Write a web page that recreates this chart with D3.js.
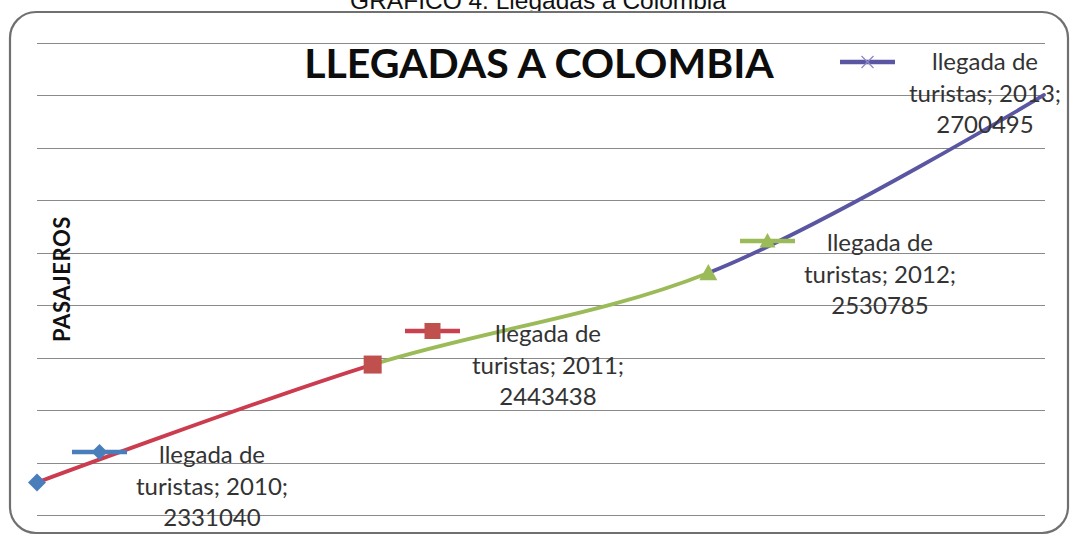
<!DOCTYPE html>
<html>
<head>
<meta charset="utf-8">
<script src="https://cdn.jsdelivr.net/npm/d3@7"></script>
<style>
  html, body { margin: 0; padding: 0; background: #fff; }
  svg { display: block; }
</style>
</head>
<body>
<svg id="chart" width="1078" height="540"></svg>
<script>
// Tourist arrivals in Colombia, 2010–2013
const years = [2010, 2011, 2012, 2013];
const arrivals = [2331040, 2443438, 2530785, 2700495];
const seriesName = "llegada de turistas";
const gridTicks = [2300000, 2350000, 2400000, 2450000, 2500000, 2550000, 2600000, 2650000, 2700000, 2750000];
const segmentColors = ["#CC3C4F", "#9BBB59", "#5A56A2"];
const markerColors = ["#4A7EBB", "#C0504D", "#9BBB59", "#8C88C8"];
const markerShapes = ["diamond", "square", "triangle", "x"];

const svg = d3.select("#chart");
const W = 1078, H = 540;

// caption above the frame
svg.append("text")
  .attr("x", 538).attr("y", 9)
  .attr("text-anchor", "middle")
  .attr("font-family", "Liberation Sans, Arial, sans-serif")
  .attr("font-size", 24.5)
  .attr("fill", "#111")
  .text("GRÁFICO 4. Llegadas a Colombia");

// rounded chart frame
svg.append("rect")
  .attr("x", 10).attr("y", 12)
  .attr("width", 1058).attr("height", 521)
  .attr("rx", 26).attr("ry", 26)
  .attr("fill", "#fff")
  .attr("stroke", "#707070")
  .attr("stroke-width", 2.2);

const x = d3.scalePoint().domain(years).range([37, 1044]);
const y = d3.scaleLinear().domain([2300000, 2750000]).range([515, 43]);

// horizontal gridlines
svg.append("g")
  .selectAll("line")
  .data(gridTicks)
  .join("line")
  .attr("x1", 37).attr("x2", 1045)
  .attr("y1", d => Math.round(y(d)) + 0.5)
  .attr("y2", d => Math.round(y(d)) + 0.5)
  .attr("stroke", "#8a8a8a")
  .attr("stroke-width", 1.2);

// chart title
svg.append("text")
  .attr("x", 539).attr("y", 78)
  .attr("text-anchor", "middle")
  .attr("font-family", "Lato, 'Open Sans', sans-serif")
  .attr("font-weight", "bold")
  .attr("font-size", 41)
  .attr("fill", "#0d0d0d")
  .text("LLEGADAS A COLOMBIA");

// axis title
svg.append("text")
  .attr("transform", "translate(70,279) rotate(-90)")
  .attr("text-anchor", "middle")
  .attr("font-family", "Lato, 'Open Sans', sans-serif")
  .attr("font-weight", "bold")
  .attr("font-size", 22)
  .attr("letter-spacing", 0.6)
  .attr("fill", "#111")
  .text("PASAJEROS");

// smoothed line, coloured segment by segment
const pts = years.map((yr, i) => [x(yr), y(arrivals[i])]);
const lineGen = d3.line().curve(d3.curveCatmullRom.alpha(0.5));
const defs = svg.append("defs");
segmentColors.forEach((c, i) => {
  defs.append("clipPath").attr("id", "seg" + i)
    .append("rect")
    .attr("x", pts[i][0]).attr("y", 0)
    .attr("width", pts[i + 1][0] - pts[i][0] + (i === 2 ? 6 : 0))
    .attr("height", H);
  svg.append("path")
    .attr("d", lineGen(pts))
    .attr("clip-path", `url(#seg${i})`)
    .attr("fill", "none")
    .attr("stroke", c)
    .attr("stroke-width", 3.8)
    .attr("stroke-linecap", "round");
});

function marker(g, shape, cx, cy, color, size) {
  if (shape === "diamond") {
    g.append("path")
      .attr("d", `M${cx},${cy - size}L${cx + size},${cy}L${cx},${cy + size}L${cx - size},${cy}Z`)
      .attr("fill", color);
  } else if (shape === "square") {
    g.append("rect")
      .attr("x", cx - size).attr("y", cy - size)
      .attr("width", size * 2).attr("height", size * 2)
      .attr("fill", color);
  } else if (shape === "triangle") {
    g.append("path")
      .attr("d", `M${cx},${cy - size}L${cx + size},${cy + size * 0.8}L${cx - size},${cy + size * 0.8}Z`)
      .attr("fill", color);
  } else {
    g.append("path")
      .attr("d", `M${cx - size},${cy - size}L${cx + size},${cy + size}M${cx - size},${cy + size}L${cx + size},${cy - size}`)
      .attr("stroke", color).attr("stroke-width", 1.3).attr("fill", "none");
  }
}

// point markers (2013 point sits under the frame edge)
const markerG = svg.append("g");
marker(markerG, "diamond", pts[0][0], pts[0][1], markerColors[0], 9);
marker(markerG, "square", pts[1][0], pts[1][1], markerColors[1], 9);
marker(markerG, "triangle", pts[2][0], pts[2][1], markerColors[2], 9);

// data labels with series key
const keyColors = ["#4A7EBB", "#C9404F", "#9BBB59", "#5A56A2"];
const labelPos = [
  { kx: 72, ky: 452, tx: 212, ty: 463 },
  { kx: 405, ky: 331, tx: 548, ty: 342 },
  { kx: 740, ky: 241, tx: 880, ty: 251 },
  { kx: 840, ky: 62, tx: 985, ty: 70 }
];
const labelG = svg.append("g");
years.forEach((yr, i) => {
  const p = labelPos[i];
  labelG.append("line")
    .attr("x1", p.kx).attr("x2", p.kx + 55)
    .attr("y1", p.ky).attr("y2", p.ky)
    .attr("stroke", keyColors[i]).attr("stroke-width", 4.5);
  marker(labelG, markerShapes[i], p.kx + 27.5, p.ky, markerColors[i], i === 3 ? 6 : 8);
  const t = labelG.append("text")
    .attr("text-anchor", "middle")
    .attr("font-family", "Lato, 'Open Sans', sans-serif")
    .attr("font-size", 24)
    .attr("fill", "#333");
  const parts = seriesName.split(" ");
  const lines = [parts.slice(0, 2).join(" "), `${parts[2]}; ${yr};`, String(arrivals[i])];
  lines.forEach((s, j) => {
    t.append("tspan").attr("x", p.tx).attr("y", p.ty + j * 31.5).text(s);
  });
});
</script>
</body>
</html>
